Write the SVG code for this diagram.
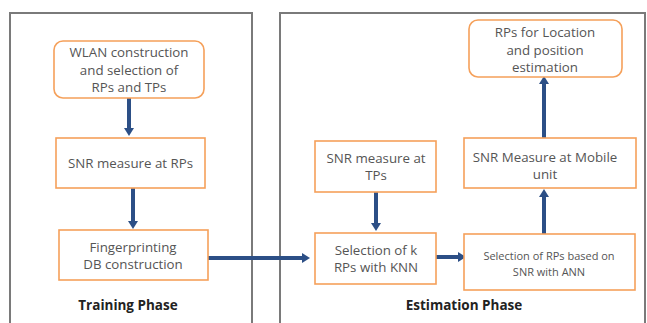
<svg xmlns="http://www.w3.org/2000/svg" width="647" height="323" viewBox="0 0 647 323">
<style>
.panel{fill:none;stroke:#7a7a7a;stroke-width:2}
.box{fill:#fff;stroke:#f5a05a;stroke-width:1.6}
.t{font-family:"Open Sans","Noto Sans",sans-serif;font-size:13.3px;fill:#555;text-anchor:middle}
.s{font-size:11px}
.h{font-family:"Open Sans","Noto Sans",sans-serif;font-size:13.5px;font-weight:bold;fill:#222;text-anchor:middle}
.c{stroke:#2c4f86;stroke-width:4;fill:none}
</style>
<defs>
<marker id="ah" markerUnits="userSpaceOnUse" markerWidth="10" markerHeight="10" refX="0" refY="5" orient="auto" viewBox="0 0 10 10">
<path d="M0,0 L8,5 L0,10 Z" fill="#2c4f86"/>
</marker>
</defs>
<rect width="647" height="323" fill="#fff"/>
<g id="panels">
<path class="panel" d="M10,330 V13 H252 V330"/>
<path class="panel" d="M280,330 V13 H645 V330"/>
</g>
<g id="connectors">
<path class="c" d="M129,98 V128" marker-end="url(#ah)"/>
<path class="c" d="M133,188 V221" marker-end="url(#ah)"/>
<path class="c" d="M208,258 H302" marker-end="url(#ah)"/>
<path class="c" d="M376,192 V223" marker-end="url(#ah)"/>
<path class="c" d="M436,257 H458" marker-end="url(#ah)"/>
<path class="c" d="M544,234 V197" marker-end="url(#ah)"/>
<path class="c" d="M544,138 V84" marker-end="url(#ah)"/>
</g>
<g id="wlan">
<rect class="box" x="54" y="41" width="150" height="57" rx="9"/>
<text class="t" x="129" y="57">WLAN construction</text>
<text class="t" x="129" y="74.5">and selection of</text>
<text class="t" x="129" y="92">RPs and TPs</text>
</g>
<g id="snr-rps">
<rect class="box" x="56" y="138" width="149" height="50"/>
<text class="t" x="130.5" y="168">SNR measure at RPs</text>
</g>
<g id="fingerprint">
<rect class="box" x="59" y="230" width="149" height="50"/>
<text class="t" x="133" y="252">Fingerprinting</text>
<text class="t" x="133" y="268.5">DB construction</text>
</g>
<text class="h" x="128" y="310">Training Phase</text>
<g id="rps-location">
<rect class="box" x="469" y="20" width="153" height="57" rx="9"/>
<text class="t" x="545" y="37">RPs for Location</text>
<text class="t" x="545" y="54.5">and position</text>
<text class="t" x="545" y="72">estimation</text>
</g>
<g id="snr-tps">
<rect class="box" x="315" y="141" width="121" height="51"/>
<text class="t" x="376" y="163">SNR measure at</text>
<text class="t" x="376" y="180">TPs</text>
</g>
<g id="knn">
<rect class="box" x="315" y="233" width="121" height="51"/>
<text class="t" x="376" y="255">Selection of k</text>
<text class="t" x="376" y="272">RPs with KNN</text>
</g>
<g id="ann">
<rect class="box" x="464" y="234" width="171" height="56"/>
<text class="t s" x="549" y="260">Selection of RPs based on</text>
<text class="t s" x="549" y="276">SNR with ANN</text>
</g>
<g id="snr-mobile">
<rect class="box" x="464" y="138" width="172" height="50"/>
<text class="t" x="545" y="162">SNR Measure at Mobile</text>
<text class="t" x="545" y="179">unit</text>
</g>
<text class="h" x="464" y="310">Estimation Phase</text>
</svg>
